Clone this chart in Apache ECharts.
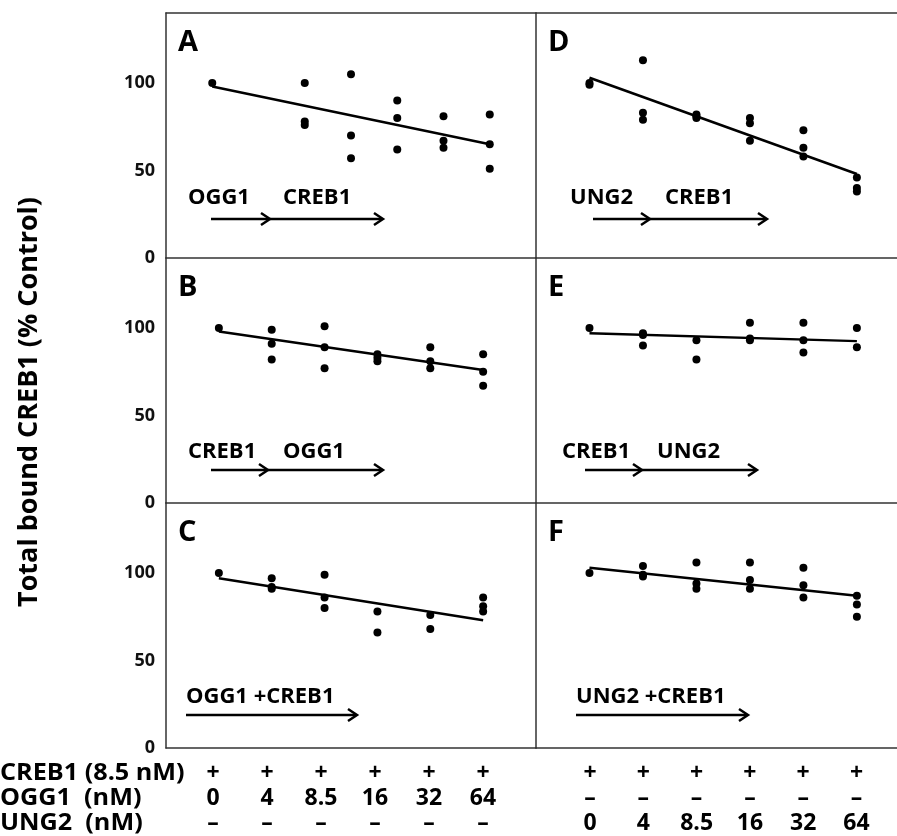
<!DOCTYPE html>
<html>
<head>
<meta charset="utf-8">
<script src="https://cdn.jsdelivr.net/npm/echarts@6/dist/echarts.min.js"></script>
<style>
html, body { margin: 0; padding: 0; background: #fff; }
#main { width: 897px; height: 836px; }
</style>
</head>
<body>
<div id="main"></div>
<script>
// position of each concentration along a panel (panel A is spaced differently)
var posA = [0, 2, 3, 4, 5, 6];
var pos = [0, 1, 2, 3, 4, 5];

// replicates, % control, one list per concentration (0, 4, 8.5, 16, 32, 64 nM)
var dataA = [[100], [100, 78, 76], [105, 70, 57], [90, 80, 62], [81, 67, 63], [82, 65, 51]];
var dataB = [[100], [99, 91, 82], [101, 89, 77], [85, 83, 81], [89, 81, 77], [85, 75, 67]];
var dataC = [[100], [97, 92, 91], [99, 86, 80], [78, 66], [76, 68], [86, 81, 78]];
var dataD = [[100, 99], [113, 83, 79], [82, 81, 80], [80, 77, 67], [73, 63, 58], [46, 40, 38]];
var dataE = [[100], [97, 96, 90], [93, 82], [103, 94, 93], [103, 93, 86], [100, 89]];
var dataF = [[100], [104, 99, 98], [106, 94, 91], [106, 96, 91], [103, 93, 86], [87, 82, 75]];

// fitted line ends (first, last concentration)
var trendA = [98, 65];
var trendB = [98, 76];
var trendC = [97, 73];
var trendD = [103, 48];
var trendE = [97, 92.5];
var trendF = [103, 87];

var yTicks = [0, 50, 100];
var concLabels = ['0', '4', '8.5', '16', '32', '64'];
var plusRow = ['+', '+', '+', '+', '+', '+'];
var dashRow = ['–', '–', '–', '–', '–', '–'];
var rowNames = ['CREB1 (8.5 nM)', 'OGG1  (nM)', 'UNG2  (nM)'];

var FONT = '"Open Sans", sans-serif';
var colLeft = [166, 536], colWidth = [370, 361];
var top0 = 13, rowH = 245;

var panels = [
  {name: 'A', x: posA, vals: dataA, trend: trendA, col: 0, row: 0, xr: [-1, 7], notes: ['OGG1', 'CREB1'],
   nx: [22, 117], ny: 60, ay: 39, ax: [45, 104, 217]},
  {name: 'B', x: pos, vals: dataB, trend: trendB, col: 0, row: 1, xr: [-1, 6], notes: ['CREB1', 'OGG1'],
   nx: [22, 117], ny: 51, ay: 33, ax: [45, 102, 217]},
  {name: 'C', x: pos, vals: dataC, trend: trendC, col: 0, row: 2, xr: [-1, 6], notes: ['OGG1 +CREB1'],
   nx: [20], ny: 51, ay: 33, ax: [20, 191]},
  {name: 'D', x: pos, vals: dataD, trend: trendD, col: 1, row: 0, xr: [-1, 5.75], notes: ['UNG2', 'CREB1'],
   nx: [34, 129], ny: 60, ay: 39, ax: [57, 114, 231]},
  {name: 'E', x: pos, vals: dataE, trend: trendE, col: 1, row: 1, xr: [-1, 5.75], notes: ['CREB1', 'UNG2'],
   nx: [26, 121], ny: 51, ay: 33, ax: [49, 106, 221]},
  {name: 'F', x: pos, vals: dataF, trend: trendF, col: 1, row: 2, xr: [-1, 5.75], notes: ['UNG2 +CREB1'],
   nx: [40], ny: 51, ay: 33, ax: [40, 212]}
];

function points(xs, vals) {
  var out = [];
  vals.forEach(function (group, i) {
    group.forEach(function (v) { out.push([xs[i], v]); });
  });
  return out;
}

var lineCol = '#333';
var grids = [], xAxes = [], yAxes = [], series = [], graphics = [];

function arrow(x1, x2, y) {
  graphics.push({type: 'line', shape: {x1: x1, y1: y, x2: x2 - 1, y2: y},
    style: {stroke: '#000', lineWidth: 2.5}});
  graphics.push({type: 'polyline', shape: {points: [[x2 - 9, y - 6], [x2, y], [x2 - 9, y + 6]]},
    style: {stroke: '#000', lineWidth: 2.5, fill: null}});
}

panels.forEach(function (p, i) {
  var L = colLeft[p.col], T = top0 + p.row * rowH, Bt = T + rowH;
  grids.push({left: L, top: T, width: colWidth[p.col], height: rowH});
  xAxes.push({
    gridIndex: i, type: 'value', min: p.xr[0], max: p.xr[1], position: 'bottom',
    axisLine: {show: true, onZero: false, lineStyle: {color: lineCol, width: 1.5}},
    axisTick: {show: false}, axisLabel: {show: false}, splitLine: {show: false}
  });
  yAxes.push({
    gridIndex: i, type: 'value', min: 0, max: 140,
    axisLine: {show: true, onZero: false, lineStyle: {color: lineCol, width: 1.5}},
    axisTick: {show: false}, splitLine: {show: false},
    axisLabel: {show: p.col === 0, customValues: yTicks, margin: 11,
      fontFamily: FONT, fontWeight: 'bold', fontSize: 18, color: '#111'}
  });
  series.push({
    type: 'scatter', xAxisIndex: i, yAxisIndex: i, symbolSize: 8,
    itemStyle: {color: '#000', opacity: 1}, data: points(p.x, p.vals)
  });
  series.push({
    type: 'line', xAxisIndex: i, yAxisIndex: i, showSymbol: false,
    lineStyle: {color: '#000', width: 2.5},
    data: [[p.x[0], p.trend[0]], [p.x[p.x.length - 1], p.trend[1]]]
  });

  graphics.push({type: 'text', x: L + 12, y: T + 30,
    style: {text: p.name, fontFamily: FONT, fontWeight: 'bold', fontSize: 29, fill: '#000',
      verticalAlign: 'middle'}});
  p.notes.forEach(function (t, k) {
    graphics.push({type: 'text', x: L + p.nx[k], y: Bt - p.ny,
      style: {text: t, fontFamily: FONT, fontWeight: 'bold', fontSize: 22, fill: '#000',
        verticalAlign: 'middle'}});
  });
  for (var k = 0; k < p.ax.length - 1; k++) arrow(L + p.ax[k], L + p.ax[k + 1], Bt - p.ay);
});

// top frame line
panels.forEach(function (p, i) {
  if (p.row !== 0) return;
  xAxes.push({
    gridIndex: i, type: 'value', min: p.xr[0], max: p.xr[1], position: 'top',
    axisLine: {show: true, onZero: false, lineStyle: {color: lineCol, width: 1.5}},
    axisTick: {show: false}, axisLabel: {show: false}, splitLine: {show: false}
  });
});

// y axis title
graphics.push({type: 'text', x: 29, y: 402, rotation: Math.PI / 2,
  style: {text: 'Total bound CREB1 (% Control)', fontFamily: FONT, fontWeight: 'bold', fontSize: 27,
    fill: '#000', align: 'center', verticalAlign: 'middle'}});

// condition table under the panels
var tableRows = [
  [plusRow, plusRow],
  [concLabels, dashRow],
  [dashRow, concLabels]
];
var rowY = [773, 798, 823];
var colStart = [213, 590], colStep = [54, 53.3];
rowNames.forEach(function (name, r) {
  graphics.push({type: 'text', x: 0, y: rowY[r],
    style: {text: name, fontFamily: FONT, fontWeight: 'bold', fontSize: 24, fill: '#000',
      verticalAlign: 'middle'}, scaleX: 1.05});
  tableRows[r].forEach(function (cells, c) {
    cells.forEach(function (t, k) {
      graphics.push({type: 'text', x: colStart[c] + k * colStep[c], y: rowY[r],
        style: {text: t, fontFamily: FONT, fontWeight: 'bold', fontSize: 23, fill: '#000',
          align: 'center', verticalAlign: 'middle'}});
    });
  });
});

var myChart = echarts.init(document.getElementById('main'));
myChart.setOption({
  animation: false,
  backgroundColor: '#fff',
  grid: grids,
  xAxis: xAxes,
  yAxis: yAxes,
  series: series,
  graphic: graphics
});
</script>
</body>
</html>
